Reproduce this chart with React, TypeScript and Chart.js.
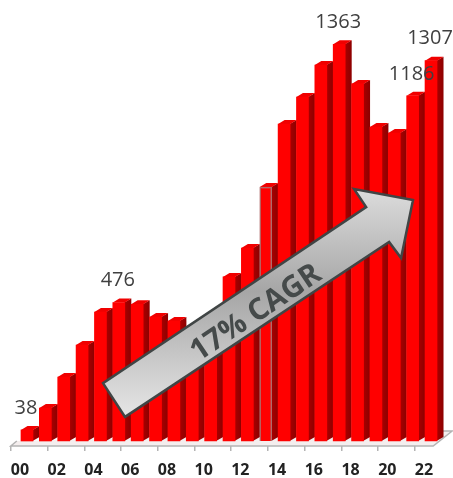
import React, { useEffect, useRef } from "react";
import { Chart, registerables } from "chart.js";

Chart.register(...registerables);

const categories = ["00","01","02","03","04","05","06","07","08","09","10","11","12","13","14","15","16","17","18","19","20","21","22"];
const values = [38,113,220,330,443,476,470,426,412,340,400,564,663,873,1089,1182,1292,1363,1227,1079,1058,1186,1307];
const labelled = [0,5,17,21,22];
const arrowX = [4.52,5.72,20.1,20.75,21.4,18.19,18.85];
const arrowY = [216,100,701,646,845,883,821];
const arrowText = "17% CAGR";
const arrowTextAt = [12.85, 457];

const SHIFT_X = 7;
const SHIFT_Y = -5;
const DEPTH_X = 6.5;
const DEPTH_Y = -4;

const threeD = {
  id: "threeD",
  beforeDatasetsDraw(chart: any) {
    const { ctx, chartArea: a } = chart;
    ctx.save();
    // floor
    ctx.fillStyle = "#f4eeee";
    ctx.beginPath();
    ctx.moveTo(a.left, a.bottom);
    ctx.lineTo(a.right, a.bottom);
    ctx.lineTo(a.right + 19, a.bottom - 15);
    ctx.lineTo(a.right + 9, a.bottom - 15);
    ctx.lineTo(a.left + 6, a.bottom - 5);
    ctx.closePath();
    ctx.fill();
    ctx.strokeStyle = "#b4b4b4";
    ctx.lineWidth = 1.5;
    ctx.beginPath();
    ctx.moveTo(a.left + 6, a.bottom - 5);
    ctx.lineTo(a.left, a.bottom);
    ctx.lineTo(a.right, a.bottom);
    ctx.lineTo(a.right + 19, a.bottom - 15);
    ctx.lineTo(a.right + 9, a.bottom - 15);
    ctx.stroke();
    ctx.restore();
  },
  beforeDatasetDraw(chart: any, args: any) {
    const { ctx } = chart;
    const meta = chart.getDatasetMeta(args.index);
    ctx.save();
    ctx.translate(SHIFT_X, SHIFT_Y);
    meta.data.forEach((bar: any) => {
      const { x, y, base, width } = bar.getProps(["x", "y", "base", "width"], true);
      const l = x - width / 2;
      const r = x + width / 2;
      const side = ctx.createLinearGradient(r, 0, r + DEPTH_X, 0);
      side.addColorStop(0, "#a80000");
      side.addColorStop(1, "#8c0000");
      ctx.fillStyle = side;
      ctx.beginPath();
      ctx.moveTo(r - 0.5, y);
      ctx.lineTo(r + DEPTH_X, y + DEPTH_Y);
      ctx.lineTo(r + DEPTH_X, base + DEPTH_Y);
      ctx.lineTo(r - 0.5, base);
      ctx.closePath();
      ctx.fill();
      ctx.fillStyle = "#f00000";
      ctx.beginPath();
      ctx.moveTo(l, y);
      ctx.lineTo(l + DEPTH_X, y + DEPTH_Y);
      ctx.lineTo(r + DEPTH_X, y + DEPTH_Y);
      ctx.lineTo(r, y);
      ctx.closePath();
      ctx.fill();
    });
  },
  afterDatasetDraw(chart: any) {
    chart.ctx.restore();
  },
  afterDatasetsDraw(chart: any) {
    const { ctx, scales } = chart;
    const meta = chart.getDatasetMeta(0);
    ctx.save();
    // value labels
    ctx.fillStyle = "#404040";
    ctx.font = '20px "Open Sans"';
    ctx.textAlign = "center";
    ctx.textBaseline = "middle";
    labelled.forEach((i) => {
      const bar = meta.data[i];
      ctx.fillText(String(values[i]), bar.x + 6, bar.y + SHIFT_Y - 22);
    });
    // arrow
    const px = arrowX.map((v) => scales.x.getPixelForValue(v));
    const py = arrowY.map((v) => scales.y.getPixelForValue(v));
    const top = Math.min(...py);
    const bottom = Math.max(...py);
    const grad = ctx.createLinearGradient(0, top, 0, bottom);
    grad.addColorStop(0, "#dcdcdc");
    grad.addColorStop(0.45, "#a6a6a6");
    grad.addColorStop(1, "#e6e6e6");
    ctx.fillStyle = grad;
    ctx.strokeStyle = "#404545";
    ctx.lineWidth = 2.5;
    ctx.lineJoin = "miter";
    ctx.beginPath();
    px.forEach((x, i) => (i ? ctx.lineTo(x, py[i]) : ctx.moveTo(x, py[i])));
    ctx.closePath();
    ctx.fill();
    ctx.stroke();
    // arrow text
    const angle = Math.atan2(py[6] - py[0], px[6] - px[0]);
    ctx.translate(scales.x.getPixelForValue(arrowTextAt[0]), scales.y.getPixelForValue(arrowTextAt[1]));
    ctx.rotate(angle);
    ctx.fillStyle = "#454a4a";
    ctx.font = 'bold 30px "Open Sans"';
    ctx.fillText(arrowText, 0, 0);
    ctx.restore();
  },
};

export default function App() {
  const ref = useRef<HTMLCanvasElement>(null);
  useEffect(() => {
    const chart = new Chart(ref.current!, {
      type: "bar",
      data: {
        labels: categories,
        datasets: [
          {
            data: values,
            backgroundColor: "#ff0000",
            borderColor: values.map((_, i) => (i === 13 ? "#b06a6a" : "#ff0000")),
            borderWidth: values.map((_, i) => (i === 13 ? 1.5 : 0)),
            barThickness: 12,
            clip: false as any,
          },
        ],
      },
      options: {
        responsive: false,
        animation: false,
        devicePixelRatio: 1,
        layout: { padding: { left: 10.8, right: 19.8, top: 9.5, bottom: 0 } },
        plugins: { legend: { display: false }, tooltip: { enabled: false } },
        scales: {
          x: {
            offset: true,
            border: { display: false },
            afterFit: (s: any) => {
              s.height = 32;
            },
            grid: {
              offset: true,
              drawOnChartArea: false,
              drawTicks: true,
              tickLength: 5,
              lineWidth: 1.5,
              color: (c: any) => (c.index % 2 === 0 ? "#b4b4b4" : "rgba(0,0,0,0)"),
            },
            ticks: {
              autoSkip: false,
              maxRotation: 0,
              padding: 10,
              color: "#222222",
              font: { family: "Open Sans", weight: "bold", size: 16 },
              callback: (_: any, i: number) => (i % 2 === 0 ? categories[i] : ""),
            },
          },
          y: { display: false, min: 0, max: 1500 },
        },
      },
      plugins: [threeD],
    });
    return () => chart.destroy();
  }, []);
  return (
    <div style={{ position: "absolute", left: 0, top: 0, width: 453, height: 478, background: "#fff" }}>
      <canvas ref={ref} width={453} height={478} style={{ display: "block" }} />
    </div>
  );
}
